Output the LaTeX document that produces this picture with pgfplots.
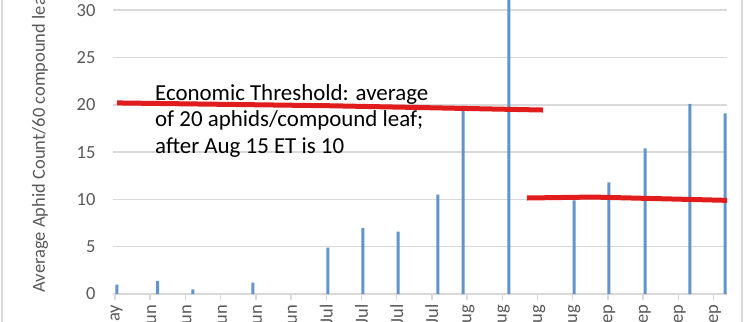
\documentclass[border=0pt]{standalone}
\usepackage{fontspec}
\setmainfont{Carlito}
\usepackage{pgfplots}
\pgfplotsset{compat=1.18}
\definecolor{gridgray}{RGB}{217,217,217}
\definecolor{txtgray}{RGB}{89,89,89}
\definecolor{barblue}{RGB}{98,148,204}
\definecolor{etred}{RGB}{224,28,28}
\begin{document}
\begin{tikzpicture}
\begin{axis}[
  x=5.03pt, y=9.46pt,
  xmin=-0.4, xmax=121.67, ymin=0, ymax=35,
  axis x line*=bottom, axis y line*=left,
  y axis line style={draw=none},
  x axis line style={draw=gridgray, line width=1.5pt},
  xtick={0,7,...,119},
  xticklabels={26-May,2-Jun,9-Jun,16-Jun,23-Jun,30-Jun,7-Jul,14-Jul,21-Jul,28-Jul,4-Aug,11-Aug,18-Aug,25-Aug,1-Sep,8-Sep,15-Sep,22-Sep},
  ytick={0,5,...,35},
  tick align=outside,
  xtick style={draw=gridgray, line width=1.5pt},
  ytick style={draw=none},
  major tick length=6pt,
  ymajorgrids,
  major grid style={draw=gridgray, line width=1.5pt},
  /pgf/number format/assume math mode=true,
  xticklabel style={rotate=90, anchor=east, font=\fontsize{18.5}{20}\selectfont, text=txtgray, inner sep=4.5pt},
  yticklabel style={font=\fontsize{18.5}{20}\selectfont, text=txtgray, xshift=-8pt},
]
\addplot[ybar, bar width=3pt, fill=barblue, draw=none] coordinates {
  (0.4,1.0) (8.5,1.4) (15.5,0.5) (27.4,1.2) (42.3,4.9) (49.3,7.0) (56.3,6.6)
  (64.2,10.5) (69.2,19.9) (78.3,33) (91.3,9.9) (98.2,11.8) (105.4,15.4)
  (114.3,20.1) (121.3,19.1)
};
\addplot[etred, line width=5pt] coordinates {(0.4,20.2) (43,19.9) (85.1,19.45)};
\addplot[etred, line width=5pt] coordinates {(81.9,10.15) (95,10.25) (121.7,9.9)};
\node[anchor=north west, inner sep=0pt, align=left, font=\fontsize{22.9}{26.5}\selectfont] at (axis cs:7.95,22.2)
  {Economic Threshold: average\\of 20 aphids/compound leaf;\\after Aug 15 ET is 10};
\coordinate (BL) at (axis cs:-22.86,-2.854);
\coordinate (TR) at (axis cs:126.64,31.08);
\coordinate (LB1) at (axis cs:-22.47,-6);
\coordinate (LB2) at (axis cs:-22.47,40);
\coordinate (RB1) at (axis cs:124.65,-6);
\coordinate (RB2) at (axis cs:124.65,40);
\coordinate (YL) at (axis cs:-14.91,-0.21);
\end{axis}
\draw[gridgray, line width=1.5pt] (LB1) -- (LB2);
\draw[gridgray, line width=1.5pt] (RB1) -- (RB2);
\node[rotate=90, anchor=west, text=txtgray, font=\fontsize{18.5}{20}\selectfont] at (YL) {Average Aphid Count/60 compound leaf};
\pgfresetboundingbox
\useasboundingbox (BL) rectangle (TR);
\end{tikzpicture}
\end{document}
